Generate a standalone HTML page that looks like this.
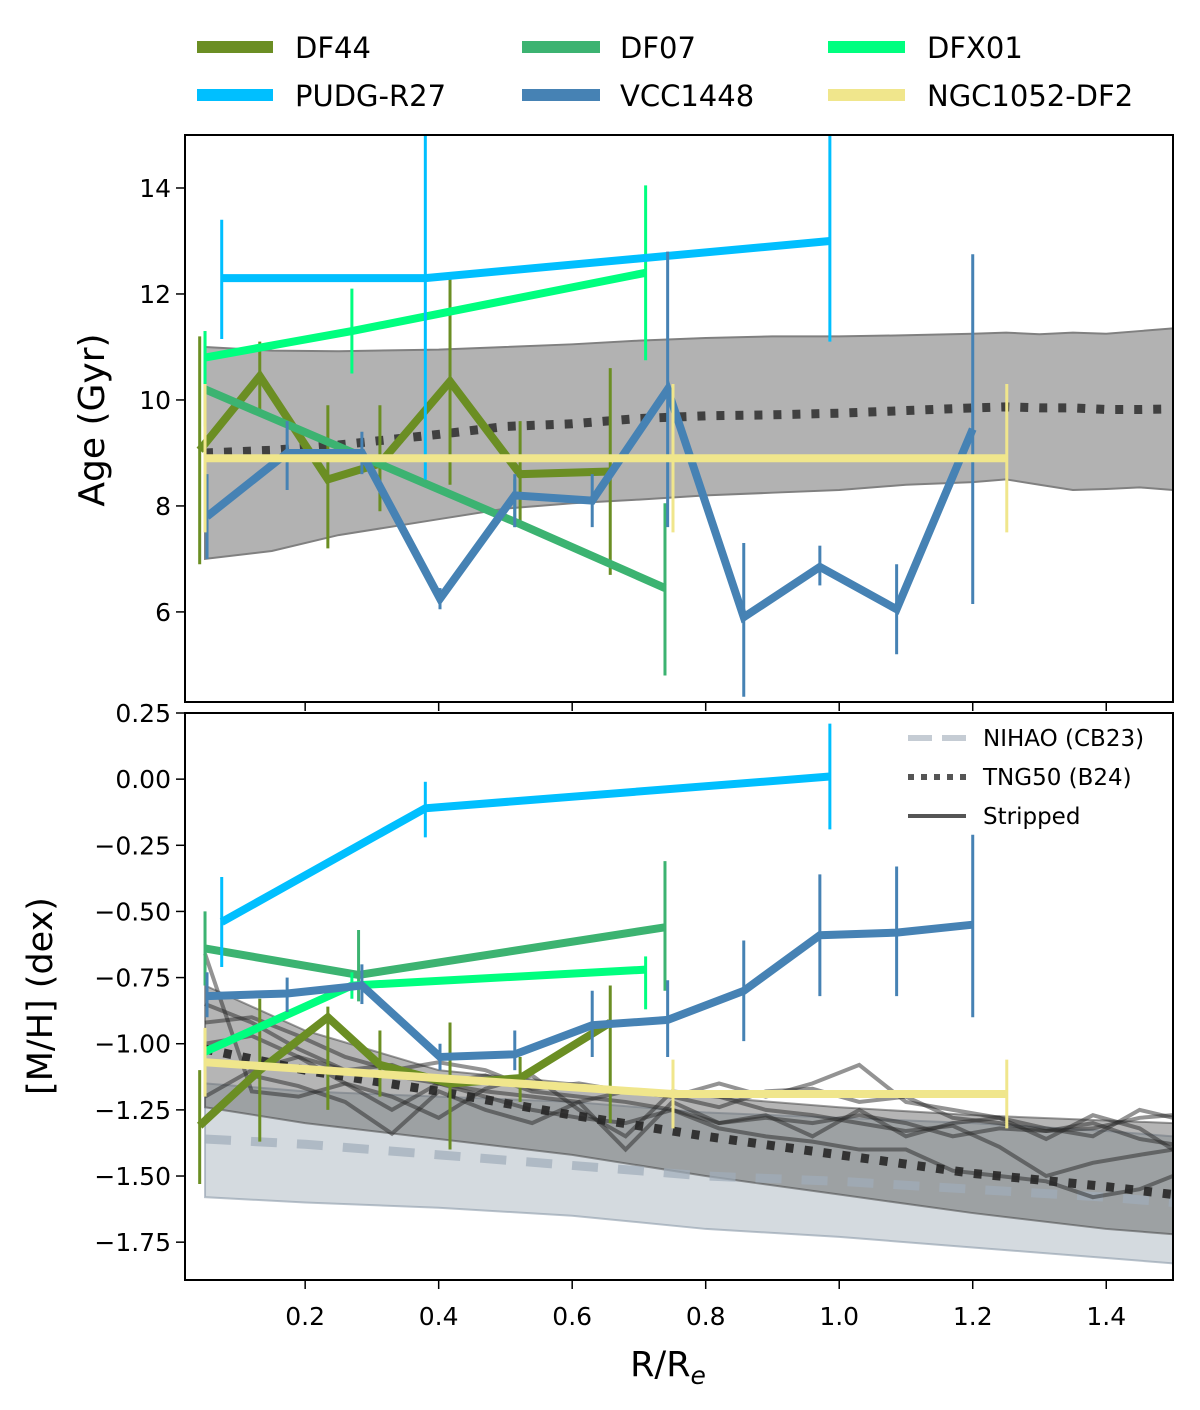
<!DOCTYPE html>
<html><head><meta charset="utf-8"><style>
body{margin:0;background:#fff;width:1200px;height:1405px;overflow:hidden}
svg text{font-family:"DejaVu Sans","Liberation Sans",sans-serif;fill:#000}
</style></head><body>
<svg id="chart" width="1200" height="1405" xmlns="http://www.w3.org/2000/svg"></svg>
<script>
// ---------- data ----------
const xTicks=[0.2,0.4,0.6,0.8,1.0,1.2,1.4];
const ageTicks=[6,8,10,12,14];
const mhTicks=[0.25,0,-0.25,-0.5,-0.75,-1.0,-1.25,-1.5,-1.75];
const mhTickLabels=["0.25","0.00","\u22120.25","\u22120.50","\u22120.75","\u22121.00","\u22121.25","\u22121.50","\u22121.75"];

const df44X=[0.042,0.132,0.234,0.312,0.417,0.522,0.657];
const df44Age=[9.05,10.45,8.5,8.8,10.35,8.6,8.65];
const df44AgeLo=[6.9,9.7,7.2,7.9,8.4,7.6,6.7];
const df44AgeHi=[11.2,11.1,9.9,9.9,12.4,9.6,10.6];
const df44MH=[-1.31,-1.1,-0.9,-1.08,-1.15,-1.13,-0.92];
const df44MHLo=[-1.53,-1.37,-1.25,-1.2,-1.4,-1.22,-1.3];
const df44MHHi=[-1.1,-0.83,-0.86,-0.95,-0.92,-1.05,-0.78];

const df07X=[0.05,0.514,0.739];
const df07Age=[10.2,7.7,6.45];
const df07AgeLo=[9.5,7.6,4.8];
const df07AgeHi=[11.3,8.5,8.05];
const df07MHX=[0.05,0.28,0.739];
const df07MH=[-0.64,-0.74,-0.56];
const df07MHLo=[-0.78,-0.84,-0.8];
const df07MHHi=[-0.5,-0.57,-0.31];

const dfx01X=[0.05,0.27,0.71];
const dfx01Age=[10.8,11.3,12.4];
const dfx01AgeLo=[10.3,10.5,10.75];
const dfx01AgeHi=[11.3,12.1,14.05];
const dfx01MH=[-1.03,-0.78,-0.72];
const dfx01MHLo=[-1.1,-0.83,-0.87];
const dfx01MHHi=[-0.95,-0.73,-0.67];

const pudgX=[0.075,0.38,0.986];
const pudgAge=[12.3,12.3,13.0];
const pudgAgeLo=[11.15,8.5,11.1];
const pudgAgeHi=[13.4,15.2,15.2];
const pudgMH=[-0.54,-0.11,0.01];
const pudgMHLo=[-0.71,-0.22,-0.19];
const pudgMHHi=[-0.37,-0.01,0.21];

const vccX=[0.053,0.173,0.285,0.402,0.514,0.63,0.743,0.857,0.971,1.086,1.2];
const vccAge=[7.8,9.0,9.0,6.25,8.2,8.1,10.2,5.9,6.85,6.05,9.45];
const vccAgeLo=[7.0,8.3,8.6,6.05,7.6,7.6,7.6,4.4,6.5,5.2,6.15];
const vccAgeHi=[8.6,9.6,9.4,6.45,8.6,8.6,12.8,7.3,7.25,6.9,12.75];
const vccMH=[-0.82,-0.81,-0.78,-1.05,-1.04,-0.93,-0.91,-0.8,-0.59,-0.58,-0.55];
const vccMHLo=[-0.9,-0.88,-0.85,-1.1,-1.1,-1.05,-1.05,-0.99,-0.82,-0.82,-0.9];
const vccMHHi=[-0.73,-0.75,-0.7,-1.0,-0.95,-0.8,-0.76,-0.61,-0.36,-0.33,-0.21];

const df2X=[0.05,0.751,1.251];
const df2Age=[8.9,8.9,8.9];
const df2AgeLo=[7.5,7.5,7.5];
const df2AgeHi=[10.3,10.3,10.3];
const df2MH=[-1.07,-1.19,-1.19];
const df2MHLo=[-1.2,-1.32,-1.32];
const df2MHHi=[-0.94,-1.06,-1.06];

const tngAgeX=[0.05,0.15,0.25,0.4,0.5,0.6,0.7,0.8,0.9,1.0,1.1,1.2,1.25,1.3,1.35,1.4,1.45,1.5];
const tngAgeHi=[11.0,10.93,10.92,10.95,11.0,11.05,11.12,11.17,11.2,11.2,11.22,11.25,11.27,11.24,11.27,11.25,11.3,11.35];
const tngAgeLo=[7.0,7.15,7.45,7.75,7.95,8.05,8.12,8.2,8.25,8.3,8.4,8.45,8.5,8.4,8.3,8.32,8.35,8.3];
const tngAgeMed=[9.0,9.05,9.15,9.35,9.5,9.55,9.65,9.7,9.72,9.75,9.8,9.85,9.87,9.85,9.85,9.82,9.82,9.83];

const simX=[0.05,0.2,0.4,0.6,0.8,1.0,1.2,1.4,1.5];
const nihaoHi=[-1.15,-1.18,-1.2,-1.22,-1.26,-1.28,-1.3,-1.33,-1.35];
const nihaoLo=[-1.58,-1.6,-1.62,-1.65,-1.7,-1.73,-1.77,-1.81,-1.83];
const nihaoMed=[-1.36,-1.38,-1.42,-1.46,-1.5,-1.52,-1.55,-1.58,-1.6];
const tngMHHi=[-0.78,-0.95,-1.1,-1.15,-1.2,-1.24,-1.27,-1.29,-1.3];
const tngMHLo=[-1.24,-1.3,-1.36,-1.42,-1.5,-1.57,-1.64,-1.7,-1.72];
const tngMHMed=[-1.02,-1.1,-1.18,-1.27,-1.35,-1.42,-1.49,-1.54,-1.57];

const stripX=[0.05,0.12,0.19,0.26,0.33,0.4,0.47,0.54,0.61,0.68,0.75,0.82,0.89,0.96,1.03,1.1,1.17,1.24,1.31,1.38,1.45,1.5];
const strip1=[-0.66,-1.18,-1.2,-1.15,-1.2,-1.28,-1.17,-1.12,-1.25,-1.35,-1.18,-1.2,-1.25,-1.27,-1.3,-1.33,-1.31,-1.39,-1.5,-1.45,-1.42,-1.4];
const strip2=[-0.85,-0.92,-1.02,-1.1,-1.08,-1.15,-1.12,-1.18,-1.2,-1.22,-1.25,-1.3,-1.28,-1.3,-1.27,-1.3,-1.35,-1.32,-1.33,-1.3,-1.36,-1.38];
const strip3=[-0.92,-0.9,-0.97,-1.05,-1.1,-1.07,-1.1,-1.17,-1.15,-1.18,-1.2,-1.24,-1.18,-1.17,-1.22,-1.2,-1.28,-1.3,-1.33,-1.32,-1.28,-1.27];
const strip4=[-1.28,-1.12,-1.16,-1.22,-1.34,-1.18,-1.25,-1.3,-1.22,-1.4,-1.22,-1.3,-1.27,-1.35,-1.25,-1.35,-1.3,-1.28,-1.36,-1.27,-1.32,-1.4];
const strip5=[-1.0,-0.97,-1.05,-1.1,-1.12,-1.15,-1.18,-1.2,-1.22,-1.18,-1.2,-1.15,-1.2,-1.15,-1.08,-1.22,-1.25,-1.28,-1.32,-1.35,-1.25,-1.28];
const strip6=[-1.2,-1.1,-1.05,-1.15,-1.25,-1.15,-1.2,-1.25,-1.28,-1.3,-1.25,-1.32,-1.35,-1.37,-1.4,-1.4,-1.48,-1.5,-1.52,-1.58,-1.55,-1.5];
const strips=[strip1,strip2,strip3,strip4,strip5,strip6];

// ---------- axes ----------
const L=185,R=1173,T1=135,B1=702,T2=713,B2=1280;
const xmin=0.02,xmax=1.5;
const X=v=>L+(v-xmin)/(xmax-xmin)*(R-L);
const Ya=v=>B1-(v-4.3)/(15-4.3)*(B1-T1);
const Ym=v=>B2-(v+1.893)/(0.25+1.893)*(B2-T2);
const svg=document.getElementById('chart');
const NS='http://www.w3.org/2000/svg';
function el(tag,attrs,parent){const e=document.createElementNS(NS,tag);for(const k in attrs)e.setAttribute(k,attrs[k]);(parent||svg).appendChild(e);return e;}

function panel(name,top,bot,Y,ticks,labels){
  const g=el('g',{});
  
  
  const cp=el('clipPath',{id:'cp-'+name},g);
  el('rect',{x:L,y:top,width:R-L,height:bot-top},cp);
  const inner=el('g',{'clip-path':'url(#cp-'+name+')'},g);
  ticks.forEach((t,i)=>{
    const y=Y(t);
    const tk=el('line',{x1:L-9,x2:L,y1:y,y2:y,stroke:'#000','stroke-width':1.5},g);
    
    
    const tx=el('text',{x:L-14,y:y+9,'text-anchor':'end','font-size':25},g);
    
    
    tx.textContent=labels[i];
  });
  xTicks.forEach(t=>{
    const tk=el('line',{x1:X(t),x2:X(t),y1:bot,y2:bot+9,stroke:'#000','stroke-width':1.5},g);
    
    
  });
  return {g,inner};
}
const pTop=panel('age-panel',T1,B1,Ya,ageTicks,ageTicks.map(String));
const pBot=panel('metallicity-panel',T2,B2,Ym,mhTicks,mhTickLabels);

function band(parent,xs,lo,hi,Y,fill,stroke,name){
  let d='M'+xs.map((x,i)=>X(x)+','+Y(hi[i])).join('L');
  d+='L'+xs.map((x,i)=>X(x)+','+Y(lo[i])).reverse().join('L')+'Z';
  const p=el('path',{d,fill,stroke,'stroke-width':2},parent);
  
  
}
function line(parent,xs,ys,Y,color,w,name,extra){
  const a=Object.assign({points:xs.map((x,i)=>X(x)+','+Y(ys[i])).join(' '),fill:'none',stroke:color,'stroke-width':w,'stroke-linejoin':'miter'},extra||{});
  const p=el('polyline',a,parent);
  
  
}
function errs(parent,xs,lo,hi,Y,color,name){
  xs.forEach((x,i)=>{
    const e=el('line',{x1:X(x),x2:X(x),y1:Y(lo[i]),y2:Y(hi[i]),stroke:color,'stroke-width':3},parent);
    
    
  });
}

band(pTop.inner,tngAgeX,tngAgeLo,tngAgeHi,Ya,'#b2b2b2','#808080','tng50-age-band');
line(pTop.inner,tngAgeX,tngAgeMed,Ya,'#404040',9,'tng50-age-median',{'stroke-dasharray':'8 11'});

band(pBot.inner,simX,nihaoLo,nihaoHi,Ym,'rgba(160,172,185,0.45)','rgba(140,155,170,0.6)','nihao-band');
band(pBot.inner,simX,tngMHLo,tngMHHi,Ym,'rgba(90,90,90,0.45)','rgba(60,60,60,0.5)','tng50-mh-band');
line(pBot.inner,simX,nihaoMed,Ym,'rgba(160,172,185,0.7)',9,'nihao-median',{'stroke-dasharray':'26 20'});
line(pBot.inner,simX,tngMHMed,Ym,'#333',9,'tng50-mh-median',{'stroke-dasharray':'8 11'});
strips.forEach(s=>line(pBot.inner,stripX,s,Ym,'rgba(40,40,40,0.5)',4,'stripped-track'));

const series=[
 ['df44','#6b8e23',df44X,df44Age,df44AgeLo,df44AgeHi,df44X,df44MH,df44MHLo,df44MHHi],
 ['df07','#3cb371',df07X,df07Age,df07AgeLo,df07AgeHi,df07MHX,df07MH,df07MHLo,df07MHHi],
 ['dfx01','#00ff7f',dfx01X,dfx01Age,dfx01AgeLo,dfx01AgeHi,dfx01X,dfx01MH,dfx01MHLo,dfx01MHHi],
 ['pudg-r27','#00bfff',pudgX,pudgAge,pudgAgeLo,pudgAgeHi,pudgX,pudgMH,pudgMHLo,pudgMHHi],
 ['vcc1448','#4682b4',vccX,vccAge,vccAgeLo,vccAgeHi,vccX,vccMH,vccMHLo,vccMHHi],
 ['ngc1052-df2','#f0e68c',df2X,df2Age,df2AgeLo,df2AgeHi,df2X,df2MH,df2MHLo,df2MHHi]
];
series.forEach(s=>{
  errs(pTop.inner,s[2],s[4],s[5],Ya,s[1],s[0]+'-age-errorbar');
  line(pTop.inner,s[2],s[3],Ya,s[1],8,s[0]+'-age-line');
  errs(pBot.inner,s[6],s[8],s[9],Ym,s[1],s[0]+'-mh-errorbar');
  line(pBot.inner,s[6],s[7],Ym,s[1],8,s[0]+'-mh-line');
});

[[T1,B1],[T2,B2]].forEach(([t,b])=>{
  const f=el('rect',{x:L,y:t,width:R-L,height:b-t,fill:'none',stroke:'#000','stroke-width':2});
  
  
});
xTicks.forEach(t=>{
  const tx=el('text',{x:X(t),y:1325,'text-anchor':'middle','font-size':25});
  
  
  tx.textContent=t.toFixed(1);
});
</script>
<svg style="position:absolute;left:0;top:0" width="1200" height="1405" xmlns="http://www.w3.org/2000/svg">
<style>text{font-family:"DejaVu Sans","Liberation Sans",sans-serif}</style>
<text x="668" y="1376" text-anchor="middle" font-size="35">R/R<tspan font-style="italic" font-size="25" dy="8">e</tspan></text>
<text transform="translate(104,420) rotate(-90)" text-anchor="middle" font-size="36">Age (Gyr)</text>
<text transform="translate(52,996) rotate(-90)" text-anchor="middle" font-size="35">[M/H] (dex)</text>
<g font-size="29">
<g><rect x="197" y="41" width="76" height="12" fill="#6b8e23"/><text x="295" y="58">DF44</text></g>
<g><rect x="522" y="41" width="78" height="12" fill="#3cb371"/><text x="620" y="58">DF07</text></g>
<g><rect x="828" y="41" width="77" height="12" fill="#00ff7f"/><text x="927" y="58">DFX01</text></g>
<g><rect x="197" y="89" width="76" height="12" fill="#00bfff"/><text x="295" y="106">PUDG-R27</text></g>
<g><rect x="522" y="89" width="78" height="12" fill="#4682b4"/><text x="620" y="106">VCC1448</text></g>
<g><rect x="828" y="89" width="77" height="12" fill="#f0e68c"/><text x="927" y="106">NGC1052-DF2</text></g>
</g>
<g font-size="23">
<g><line x1="908" x2="966" y1="738" y2="738" stroke="#c5ccd4" stroke-width="6" stroke-dasharray="24 10"/><text x="983" y="746">NIHAO (CB23)</text></g>
<g><line x1="908" x2="966" y1="777" y2="777" stroke="#555" stroke-width="6" stroke-dasharray="6 7"/><text x="983" y="785">TNG50 (B24)</text></g>
<g><line x1="908" x2="966" y1="816" y2="816" stroke="#555" stroke-width="4"/><text x="983" y="824">Stripped</text></g>
</g>
</svg>
</body></html>
